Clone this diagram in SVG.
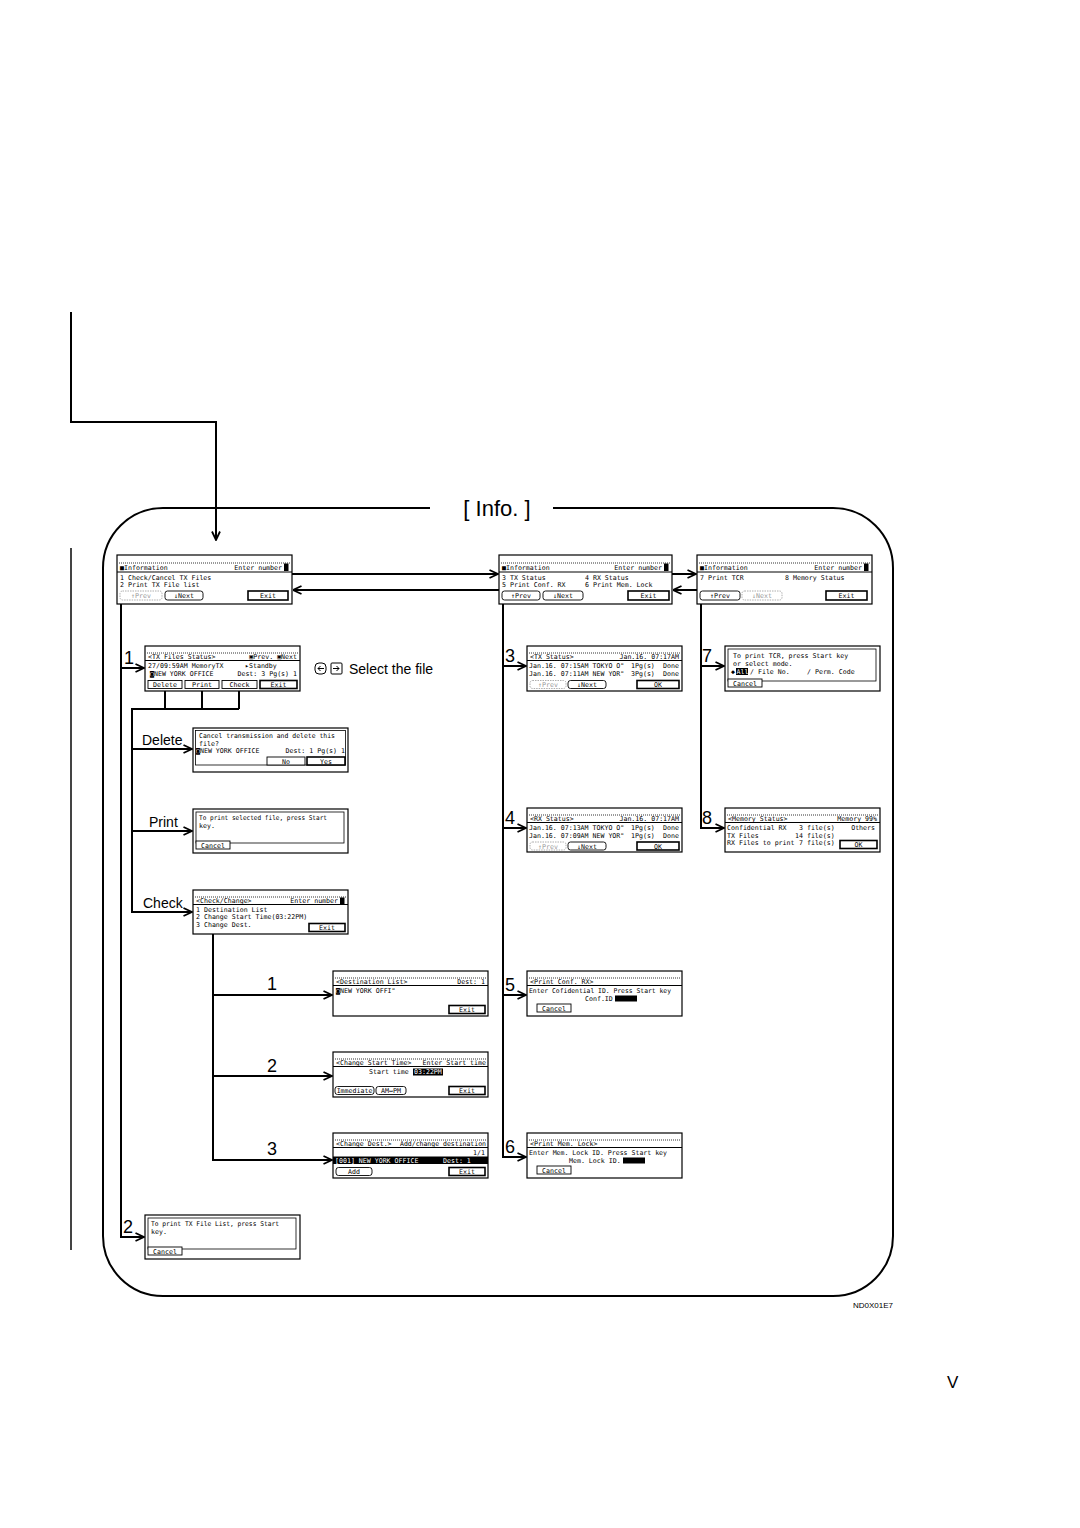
<svg xmlns="http://www.w3.org/2000/svg" width="1080" height="1528" viewBox="0 0 1080 1528">
<style>
.s{fill:#fff;stroke:#000;stroke-width:1.2}
.in{fill:none;stroke:#000;stroke-width:0.8}
.d{stroke:#000;stroke-width:0.8;stroke-dasharray:1 1}
.l{stroke:#000;stroke-width:1}
.t{font-family:"DejaVu Sans Mono","Liberation Mono",monospace;font-size:6.6px;fill:#000}
.r{text-anchor:end}
.m{text-anchor:middle}
.w{fill:#fff}
.tg{fill:#999}
.b{fill:#fff;stroke:#000;stroke-width:0.9}
.bx{fill:#fff;stroke:#000;stroke-width:1.6}
.bg{fill:#fff;stroke:#999;stroke-width:0.8;stroke-dasharray:1.5 1}
.c{stroke:#000;stroke-width:2;fill:none}
.lab{font-family:"Liberation Sans",Arial,sans-serif;font-size:18px;fill:#000}
.lb{font-family:"Liberation Sans",Arial,sans-serif;font-size:14px;fill:#000}
</style>
<defs>
<marker id="a" viewBox="0 0 10 10" refX="9.5" refY="5" markerWidth="10" markerHeight="10" markerUnits="userSpaceOnUse" orient="auto">
<path d="M1,1 L9.5,5 L1,9" fill="none" stroke="#000" stroke-width="1.8"/>
</marker>
</defs>
<rect width="1080" height="1528" fill="#fff"/>

<g id="frame">
<path class="c" d="M430,508 H163 A60,60 0 0 0 103,568 V1236 A60,60 0 0 0 163,1296 H833 A60,60 0 0 0 893,1236 V568 A60,60 0 0 0 833,508 H553"/>
<text x="497" y="516" text-anchor="middle" font-family="Liberation Sans, Arial, sans-serif" font-size="22">[ Info. ]</text>
</g>

<g id="connectors">
<path class="c" d="M71,312 V422 H216 V540" marker-end="url(#a)"/>
<path d="M71,548 V1250" stroke="#444" stroke-width="2" fill="none"/>
<path class="c" d="M292,574 H498" marker-end="url(#a)"/>
<path class="c" d="M499,590 H293" marker-end="url(#a)"/>
<path class="c" d="M672,574 H696" marker-end="url(#a)"/>
<path class="c" d="M697,590 H673" marker-end="url(#a)"/>
<path class="c" d="M121,604 V1237 H144" marker-end="url(#a)"/>
<path class="c" d="M121,668 H144" marker-end="url(#a)"/>
<path class="c" d="M165,691 V709 M202,691 V709 M239,691 V709 M131,709 H239"/>
<path class="c" d="M132,709 V912 H192" marker-end="url(#a)"/>
<path class="c" d="M132,749 H192" marker-end="url(#a)"/>
<path class="c" d="M132,831 H192" marker-end="url(#a)"/>
<path class="c" d="M213,934 V1160 H332" marker-end="url(#a)"/>
<path class="c" d="M213,995 H332" marker-end="url(#a)"/>
<path class="c" d="M213,1076 H332" marker-end="url(#a)"/>
<path class="c" d="M503,604 V1157 H526" marker-end="url(#a)"/>
<path class="c" d="M503,666 H526" marker-end="url(#a)"/>
<path class="c" d="M503,828 H526" marker-end="url(#a)"/>
<path class="c" d="M503,995 H526" marker-end="url(#a)"/>
<path class="c" d="M701,604 V828 H724" marker-end="url(#a)"/>
<path class="c" d="M701,666 H724" marker-end="url(#a)"/>
</g>

<g id="labels">
<text class="lab" x="124" y="664">1</text>
<text class="lab" x="123" y="1233">2</text>
<text class="lb" x="142" y="745">Delete</text>
<text class="lb" x="149" y="827">Print</text>
<text class="lb" x="143" y="908">Check</text>
<text class="lab" x="267" y="990">1</text>
<text class="lab" x="267" y="1072">2</text>
<text class="lab" x="267" y="1155">3</text>
<text class="lab" x="505" y="662">3</text>
<text class="lab" x="505" y="824">4</text>
<text class="lab" x="505" y="991">5</text>
<text class="lab" x="505" y="1153">6</text>
<text class="lab" x="702" y="662">7</text>
<text class="lab" x="702" y="824">8</text>
<g id="selectIcons" fill="none" stroke="#000" stroke-width="1">
<rect x="315" y="663" width="11" height="11" rx="4"/>
<path d="M324,668.5 H318 M320.5,666 L318,668.5 L320.5,671"/>
<rect x="331" y="663" width="11" height="11" rx="1"/>
<path d="M333,668.5 H339 M336.5,666 L339,668.5 L336.5,671"/>
</g>
<text class="lb" x="349" y="674">Select the file</text>
<text x="853" y="1308" font-family="Liberation Sans, Arial, sans-serif" font-size="8">ND0X01E7</text>
<text x="947" y="1388" font-family="Liberation Sans, Arial, sans-serif" font-size="17">V</text>
</g>

<g id="scrInfo1" transform="translate(117,555)">
<rect class="s" width="175" height="49"/>
<line class="d" x1="2" y1="8" x2="173" y2="8"/>
<text class="t" x="3" y="14.5">■Information</text>
<text class="t r" x="165" y="14.5">Enter number</text>
<rect x="167" y="8.5" width="4.5" height="7.5"/>
<line class="l" x1="0" y1="17" x2="175" y2="17"/>
<text class="t" x="3" y="24.5">1 Check/Cancel TX Files</text>
<text class="t" x="3" y="32">2 Print TX File list</text>
<rect class="bg" x="3" y="36" width="42" height="9" rx="2.5"/><text class="t tg m" x="24" y="43">↑Prev</text>
<rect class="b" x="48" y="36" width="38" height="9" rx="2.5"/><text class="t m" x="67" y="43">↓Next</text>
<rect class="bx" x="131" y="36" width="40" height="9"/><text class="t m" x="151" y="43">Exit</text>
</g>

<g id="scrInfo2" transform="translate(499,555)">
<rect class="s" width="173" height="49"/>
<line class="d" x1="2" y1="8" x2="171" y2="8"/>
<text class="t" x="3" y="14.5">■Information</text>
<text class="t r" x="163" y="14.5">Enter number</text>
<rect x="165" y="8.5" width="4.5" height="7.5"/>
<line class="l" x1="0" y1="17" x2="173" y2="17"/>
<text class="t" x="3" y="24.5">3 TX Status</text>
<text class="t" x="86" y="24.5">4 RX Status</text>
<text class="t" x="3" y="32">5 Print Conf. RX</text>
<text class="t" x="86" y="32">6 Print Mem. Lock</text>
<rect class="b" x="3" y="36" width="38" height="9" rx="2.5"/><text class="t m" x="22" y="43">↑Prev</text>
<rect class="b" x="44" y="36" width="40" height="9" rx="2.5"/><text class="t m" x="64" y="43">↓Next</text>
<rect class="bx" x="129" y="36" width="41" height="9"/><text class="t m" x="149.5" y="43">Exit</text>
</g>

<g id="scrInfo3" transform="translate(697,555)">
<rect class="s" width="175" height="49"/>
<line class="d" x1="2" y1="8" x2="173" y2="8"/>
<text class="t" x="3" y="14.5">■Information</text>
<text class="t r" x="165" y="14.5">Enter number</text>
<rect x="167" y="8.5" width="4.5" height="7.5"/>
<line class="l" x1="0" y1="17" x2="175" y2="17"/>
<text class="t" x="3" y="24.5">7 Print TCR</text>
<text class="t" x="88" y="24.5">8 Memory Status</text>
<rect class="b" x="3" y="36" width="40" height="9" rx="2.5"/><text class="t m" x="23" y="43">↑Prev</text>
<rect class="bg" x="45" y="36" width="40" height="9" rx="2.5"/><text class="t tg m" x="65" y="43">↓Next</text>
<rect class="bx" x="129" y="36" width="41" height="9"/><text class="t m" x="149.5" y="43">Exit</text>
</g>

<g id="scrTxFiles" transform="translate(145,646)">
<rect class="s" width="155" height="45"/>
<line class="d" x1="2" y1="7" x2="153" y2="7"/>
<text class="t" x="3" y="12.5">&lt;TX Files Status&gt;</text>
<text class="t r" x="152" y="12.5">▣Prev. ▣Next</text>
<line class="l" x1="0" y1="14.5" x2="155" y2="14.5"/>
<text class="t" x="3" y="22">27/09:59AM MemoryTX</text>
<text class="t" x="100" y="22">▸Standby</text>
<text class="t" x="5" y="29.5">◙NEW YORK OFFICE</text>
<text class="t r" x="152" y="29.5">Dest:  3 Pg(s)  1</text>
<rect class="b" x="3" y="34.5" width="34" height="8"/><text class="t m" x="20" y="41">Delete</text>
<rect class="b" x="40" y="34.5" width="34" height="8"/><text class="t m" x="57" y="41">Print</text>
<rect class="b" x="77" y="34.5" width="35" height="8"/><text class="t m" x="94.5" y="41">Check</text>
<rect class="bx" x="115" y="34.5" width="37" height="8"/><text class="t m" x="133.5" y="41">Exit</text>
</g>

<g id="scrDelete" transform="translate(193,728)">
<rect class="s" width="155" height="44"/>
<rect class="in" x="2.5" y="2.5" width="150" height="34.5"/>
<text class="t" x="6" y="10" textLength="136" lengthAdjust="spacingAndGlyphs">Cancel transmission and delete this</text>
<text class="t" x="6" y="17.5">file?</text>
<text class="t" x="3" y="25">◙NEW YORK OFFICE</text>
<text class="t r" x="152" y="25">Dest:  1 Pg(s)  1</text>
<rect class="b" x="74" y="29" width="38" height="8"/><text class="t m" x="93" y="35.5">No</text>
<rect class="bx" x="114" y="29" width="38" height="8"/><text class="t m" x="133" y="35.5">Yes</text>
</g>

<g id="scrPrint" transform="translate(193,809)">
<rect class="s" width="155" height="44"/>
<rect class="in" x="3" y="3" width="148" height="31"/>
<text class="t" x="6" y="11" textLength="128" lengthAdjust="spacingAndGlyphs">To print selected file, press Start</text>
<text class="t" x="6" y="19">key.</text>
<rect class="b" x="3" y="32" width="34" height="8"/><text class="t m" x="20" y="38.5">Cancel</text>
</g>

<g id="scrCheck" transform="translate(193,890)">
<rect class="s" width="155" height="44"/>
<line class="d" x1="2" y1="7" x2="153" y2="7"/>
<text class="t" x="3" y="12.5">&lt;Check/Change&gt;</text>
<text class="t r" x="145" y="12.5">Enter number</text>
<rect x="147" y="7.5" width="4.5" height="7"/>
<line class="l" x1="0" y1="14.5" x2="155" y2="14.5"/>
<text class="t" x="3" y="22">1 Destination List</text>
<text class="t" x="3" y="29">2 Change Start Time(03:22PM)</text>
<text class="t" x="3" y="36.5">3 Change Dest.</text>
<rect class="bx" x="116" y="33.5" width="36" height="8"/><text class="t m" x="134" y="40">Exit</text>
</g>

<g id="scrDestList" transform="translate(333,971)">
<rect class="s" width="155" height="45"/>
<line class="d" x1="2" y1="7" x2="153" y2="7"/>
<text class="t" x="3" y="12.5">&lt;Destination List&gt;</text>
<text class="t r" x="152" y="12.5">Dest:   1</text>
<line class="l" x1="0" y1="14.5" x2="155" y2="14.5"/>
<text class="t" x="3" y="22">◙NEW YORK OFFI"</text>
<rect class="bx" x="116" y="34.5" width="36" height="8"/><text class="t m" x="134" y="41">Exit</text>
</g>

<g id="scrStartTime" transform="translate(333,1052)">
<rect class="s" width="155" height="45"/>
<line class="d" x1="2" y1="7" x2="153" y2="7"/>
<text class="t" x="3" y="12.5">&lt;Change Start Time&gt;</text>
<text class="t r" x="153" y="12.5">Enter Start time</text>
<line class="l" x1="0" y1="14.5" x2="155" y2="14.5"/>
<text class="t" x="36" y="22">Start time</text>
<rect x="80" y="16.5" width="30" height="7"/>
<text class="t w" x="81" y="22">03:22PM</text>
<rect class="b" x="2" y="34.5" width="39" height="8" rx="2.5"/><text class="t m" x="21.5" y="41">Immediate</text>
<rect class="b" x="43" y="34.5" width="30" height="8" rx="2.5"/><text class="t m" x="58" y="41">AM↔PM</text>
<rect class="bx" x="116" y="34.5" width="36" height="8"/><text class="t m" x="134" y="41">Exit</text>
</g>

<g id="scrChangeDest" transform="translate(333,1133)">
<rect class="s" width="155" height="45"/>
<line class="d" x1="2" y1="7" x2="153" y2="7"/>
<text class="t" x="3" y="12.5">&lt;Change Dest.&gt;</text>
<text class="t r" x="153" y="12.5" textLength="86" lengthAdjust="spacingAndGlyphs">Add/change destination</text>
<line class="l" x1="0" y1="14.5" x2="155" y2="14.5"/>
<text class="t r" x="152" y="21.5">1/1</text>
<rect x="0" y="23.5" width="155" height="7.5"/>
<text class="t w" x="2" y="29.5">[001] NEW YORK OFFICE</text>
<text class="t w" x="110" y="29.5">Dest:  1</text>
<rect class="b" x="3" y="34.5" width="36" height="8" rx="2.5"/><text class="t m" x="21" y="41">Add</text>
<rect class="bx" x="116" y="34.5" width="36" height="8"/><text class="t m" x="134" y="41">Exit</text>
</g>

<g id="scrTxStatus" transform="translate(527,646)">
<rect class="s" width="155" height="45"/>
<line class="d" x1="2" y1="7" x2="153" y2="7"/>
<text class="t" x="3" y="12.5">&lt;TX Status&gt;</text>
<text class="t r" x="152" y="12.5">Jan.16. 07:17AM</text>
<line class="l" x1="0" y1="14.5" x2="155" y2="14.5"/>
<text class="t" x="2" y="22">Jan.16. 07:15AM TOKYO O"</text>
<text class="t" x="104" y="22">1Pg(s)</text>
<text class="t r" x="152" y="22">Done</text>
<text class="t" x="2" y="29.5">Jan.16. 07:11AM NEW YOR"</text>
<text class="t" x="104" y="29.5">3Pg(s)</text>
<text class="t r" x="152" y="29.5">Done</text>
<rect class="bg" x="3" y="34.5" width="36" height="8" rx="2.5"/><text class="t tg m" x="21" y="41">↑Prev</text>
<rect class="b" x="41" y="34.5" width="38" height="8" rx="2.5"/><text class="t m" x="60" y="41">↓Next</text>
<rect class="bx" x="110" y="34.5" width="42" height="8"/><text class="t m" x="131" y="41">OK</text>
</g>

<g id="scrRxStatus" transform="translate(527,808)">
<rect class="s" width="155" height="44"/>
<line class="d" x1="2" y1="7" x2="153" y2="7"/>
<text class="t" x="3" y="12.5">&lt;RX Status&gt;</text>
<text class="t r" x="152" y="12.5">Jan.16. 07:17AM</text>
<line class="l" x1="0" y1="14.5" x2="155" y2="14.5"/>
<text class="t" x="2" y="22">Jan.16. 07:13AM TOKYO O"</text>
<text class="t" x="104" y="22">1Pg(s)</text>
<text class="t r" x="152" y="22">Done</text>
<text class="t" x="2" y="29.5">Jan.16. 07:09AM NEW YOR"</text>
<text class="t" x="104" y="29.5">1Pg(s)</text>
<text class="t r" x="152" y="29.5">Done</text>
<rect class="bg" x="3" y="34" width="36" height="8" rx="2.5"/><text class="t tg m" x="21" y="40.5">↑Prev</text>
<rect class="b" x="41" y="34" width="38" height="8" rx="2.5"/><text class="t m" x="60" y="40.5">↓Next</text>
<rect class="bx" x="110" y="34" width="42" height="8"/><text class="t m" x="131" y="40.5">OK</text>
</g>

<g id="scrPrintConf" transform="translate(527,971)">
<rect class="s" width="155" height="45"/>
<line class="d" x1="2" y1="7" x2="153" y2="7"/>
<text class="t" x="3" y="12.5">&lt;Print Conf. RX&gt;</text>
<line class="l" x1="0" y1="14.5" x2="155" y2="14.5"/>
<text class="t" x="2" y="22" textLength="142" lengthAdjust="spacingAndGlyphs">Enter Cofidential ID.  Press Start key</text>
<text class="t" x="58" y="29.5">Conf.ID</text>
<rect x="88" y="24.5" width="22" height="6"/>
<rect class="b" x="10" y="33" width="34" height="8"/><text class="t m" x="27" y="39.5">Cancel</text>
</g>

<g id="scrPrintMemLock" transform="translate(527,1133)">
<rect class="s" width="155" height="45"/>
<line class="d" x1="2" y1="7" x2="153" y2="7"/>
<text class="t" x="3" y="12.5">&lt;Print Mem. Lock&gt;</text>
<line class="l" x1="0" y1="14.5" x2="155" y2="14.5"/>
<text class="t" x="2" y="22" textLength="138" lengthAdjust="spacingAndGlyphs">Enter Mem. Lock ID.  Press Start key</text>
<text class="t" x="42" y="29.5">Mem. Lock ID.</text>
<rect x="96" y="24.5" width="22" height="6"/>
<rect class="b" x="10" y="33" width="34" height="8"/><text class="t m" x="27" y="39.5">Cancel</text>
</g>

<g id="scrPrintTCR" transform="translate(725,646)">
<rect class="s" width="155" height="45"/>
<rect class="in" x="3" y="3" width="148" height="32"/>
<text class="t" x="8" y="12">To print TCR, press Start key</text>
<text class="t" x="8" y="19.5">or select mode.</text>
<text class="t" x="6" y="27.5">◆</text>
<rect x="11" y="22" width="12" height="7"/>
<text class="t w" x="11.5" y="27.5">All</text>
<text class="t" x="25" y="27.5">/ File No.</text>
<text class="t" x="82" y="27.5">/ Perm. Code</text>
<rect class="b" x="3" y="33" width="34" height="8"/><text class="t m" x="20" y="39.5">Cancel</text>
</g>

<g id="scrMemStatus" transform="translate(725,808)">
<rect class="s" width="155" height="44"/>
<line class="d" x1="2" y1="7" x2="153" y2="7"/>
<text class="t" x="3" y="12.5">&lt;Memory Status&gt;</text>
<text class="t r" x="152" y="12.5">Memory 99%</text>
<line class="l" x1="0" y1="14.5" x2="155" y2="14.5"/>
<text class="t" x="2" y="22">Confidential RX</text>
<text class="t" x="74" y="22">3 file(s)</text>
<text class="t r" x="150" y="22">Others</text>
<text class="t" x="2" y="29.5">TX Files</text>
<text class="t" x="70" y="29.5">14 file(s)</text>
<text class="t" x="2" y="37">RX Files to print</text>
<text class="t" x="74" y="37">7 file(s)</text>
<rect class="bx" x="115" y="32.5" width="37" height="8"/><text class="t m" x="133.5" y="39">OK</text>
</g>

<g id="scrPrintTxList" transform="translate(145,1215)">
<rect class="s" width="155" height="44"/>
<rect class="in" x="3" y="3" width="148" height="31"/>
<text class="t" x="6" y="11" textLength="128" lengthAdjust="spacingAndGlyphs">To print TX File List, press Start</text>
<text class="t" x="6" y="19">key.</text>
<rect class="b" x="3" y="32" width="34" height="8"/><text class="t m" x="20" y="38.5">Cancel</text>
</g>
</svg>
